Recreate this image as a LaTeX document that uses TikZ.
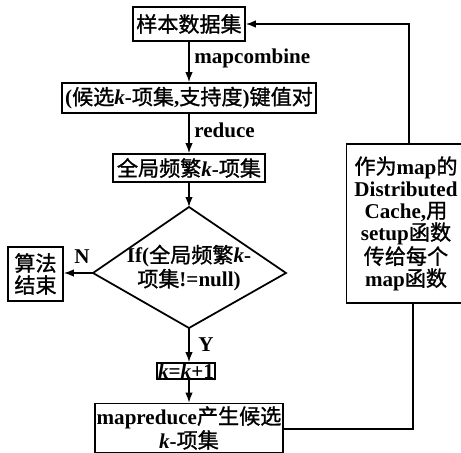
\documentclass[tikz,border=0pt]{standalone}
\usepackage{fontspec}
\setmainfont{Liberation Serif}
\newfontfamily\cjk{Noto Sans CJK SC}[FakeBold=1.2]
\usetikzlibrary{arrows.meta,calc}
\newcommand\zh[1]{{\cjk\mdseries #1}}
\newcommand\kk{\textbf{\textit{k}}}
\begin{document}
\begin{tikzpicture}[x=0.02cm,y=-0.02cm,
  every node/.style={font=\fontsize{12pt}{12.5pt}\selectfont\bfseries},
  box/.style={draw,line width=1pt,inner sep=0pt,align=center},
  conn/.style={line width=0.8pt},
  arr/.style={conn,-{Latex[length=0.2cm,width=0.15cm]}},
  lbl/.style={inner sep=0pt}]
\useasboundingbox (0,0) rectangle (461,453);
\node[box,minimum width=2.24cm,minimum height=0.68cm] (b1) at (189,24) {\zh{样本数据集}};
\node[box,minimum width=5.08cm,minimum height=0.60cm] (b2) at (189,98) {(\zh{候选}\kk-\zh{项集},\zh{支持度})\zh{键值对}};
\node[box,minimum width=3.04cm,minimum height=0.56cm] (b3) at (189,168) {\zh{全局频繁}\kk-\zh{项集}};
\coordinate (dT) at (189,207);
\coordinate (dR) at (286,273);
\coordinate (dB) at (189,328);
\coordinate (dL) at (93,273);
\draw[line width=1pt] (dT) -- (dR) -- (dB) -- (dL) -- cycle;
\node[align=center,inner sep=0pt] (dtext) at (189,268) {If(\zh{全局频繁}\kk-\\\zh{项集}!=null)};
\node[box,minimum width=1.10cm,minimum height=1.08cm] (end) at (35.5,274) {\zh{算法}\\\zh{结束}};
\node[box,minimum width=1.16cm,minimum height=0.32cm] (kb) at (186,371) {\kk=\kk+1};
\node[box,minimum width=3.76cm,minimum height=0.98cm] (b5) at (189,428) {mapreduce\zh{产生候选}\\\kk-\zh{项集}};
\node[box,minimum width=2.38cm,minimum height=3.18cm] (side) at (406,223.5) {\zh{作为}map\zh{的}\\Distributed\\Cache,\zh{用}\\setup\zh{函数}\\\zh{传给每个}\\map\zh{函数}};
\node[lbl,anchor=west] (l1) at (194,58) {mapcombine};
\node[lbl,anchor=west] (l2) at (194,130) {reduce};
\node[lbl] (lN) at (82,257) {N};
\node[lbl] (lY) at (206,345) {Y};
\draw[arr] (b1.south) -- (b2.north);
\draw[arr] (b2.south) -- (b3.north);
\draw[arr] (b3.south) -- (dT);
\draw[arr] (dL) -- (end.east |- dL);
\draw[arr] (dB) -- (dB |- kb.north);
\draw[arr] (kb.south -| dB) -- (b5.north);
\coordinate (sb) at ($(side.south)+(7,0)$);
\coordinate (st) at ($(side.north)+(3,0)$);
\draw[conn] (b5.east |- 0,429) -| (sb);
\draw[arr] (st) |- (b1.east);
\end{tikzpicture}
\end{document}
